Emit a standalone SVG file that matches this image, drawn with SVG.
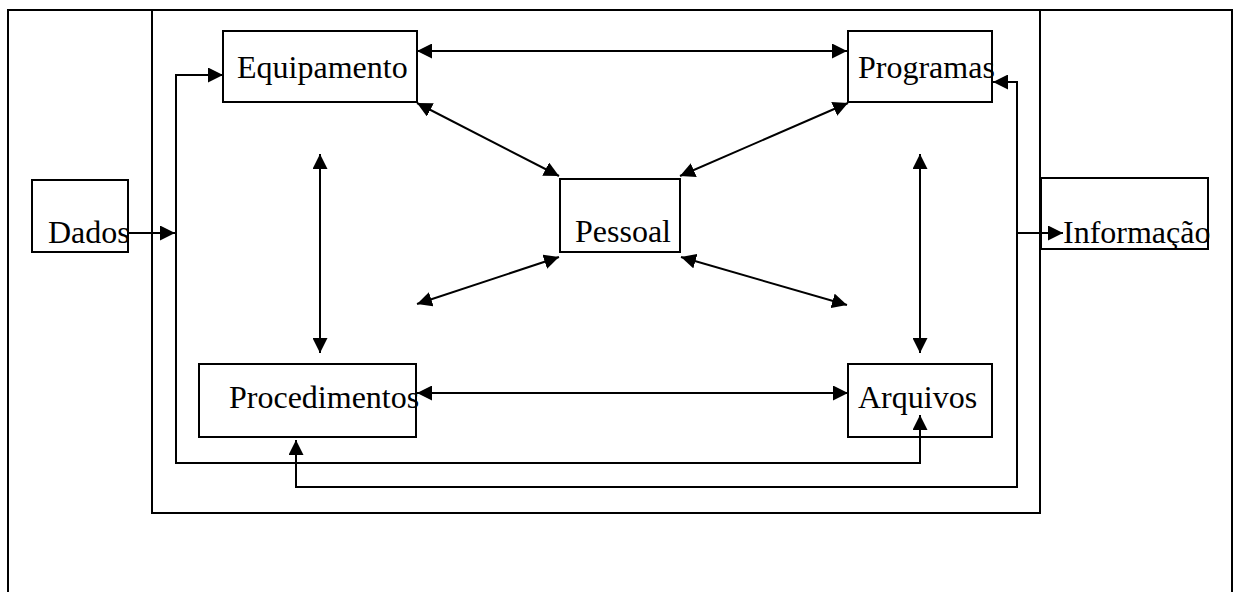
<svg xmlns="http://www.w3.org/2000/svg" width="1234" height="592" viewBox="0 0 1234 592">
<style>
.box{fill:none;stroke:#000;stroke-width:2}
.lbl{font-family:"Liberation Serif","Times New Roman",serif;font-size:32px;fill:#000}
.c{fill:none;stroke:#000;stroke-width:2}
.a{marker-end:url(#ah)}
.b{marker-start:url(#ah);marker-end:url(#ah)}
</style>
<defs>
<marker id="ah" markerUnits="userSpaceOnUse" markerWidth="15" markerHeight="15" refX="15" refY="7.5" orient="auto-start-reverse">
<path d="M0,0 L15,7.5 L0,15 z" fill="#000"/>
</marker>
</defs>
<rect width="1234" height="592" fill="#fff"/>
<g id="frame-outer"><rect class="box" x="8" y="10" width="1224" height="600"/></g>
<g id="frame-inner"><rect class="box" x="152" y="10" width="888" height="503"/></g>
<g id="connectors">
<path class="c a" d="M128,233 L175,233"/>
<path class="c b" d="M920,415 L920,463 L176,463 L176,75 L223,75"/>
<path class="c b" d="M993,82 L1017,82 L1017,487 L296,487 L296,440"/>
<path class="c a" d="M1017,233 L1063,233"/>
<path class="c b" d="M417,51 L847,51"/>
<path class="c b" d="M417,393 L848,393"/>
<path class="c b" d="M320,154 L320,353"/>
<path class="c b" d="M920,154 L920,353"/>
<path class="c b" d="M417,103 L559,176"/>
<path class="c b" d="M848,103 L680,176"/>
<path class="c b" d="M559,257 L417,304"/>
<path class="c b" d="M681,257 L847,305"/>
</g>
<g id="dados"><rect class="box" x="32" y="180" width="96" height="72"/><text class="lbl" x="48" y="243">Dados</text></g>
<g id="equipamento"><rect class="box" x="223" y="31" width="194" height="71"/><text class="lbl" x="237" y="78">Equipamento</text></g>
<g id="programas"><rect class="box" x="848" y="31" width="144" height="71"/><text class="lbl" x="858" y="78">Programas</text></g>
<g id="pessoal"><rect class="box" x="560" y="179" width="120" height="73"/><text class="lbl" x="575" y="242">Pessoal</text></g>
<g id="procedimentos"><rect class="box" x="199" y="364" width="217" height="73"/><text class="lbl" x="229" y="408">Procedimentos</text></g>
<g id="arquivos"><rect class="box" x="848" y="364" width="144" height="73"/><text class="lbl" x="858" y="408">Arquivos</text></g>
<g id="informacao"><rect class="box" x="1041" y="178" width="167" height="71"/><text class="lbl" x="1063" y="243">Informação</text></g>
</svg>
